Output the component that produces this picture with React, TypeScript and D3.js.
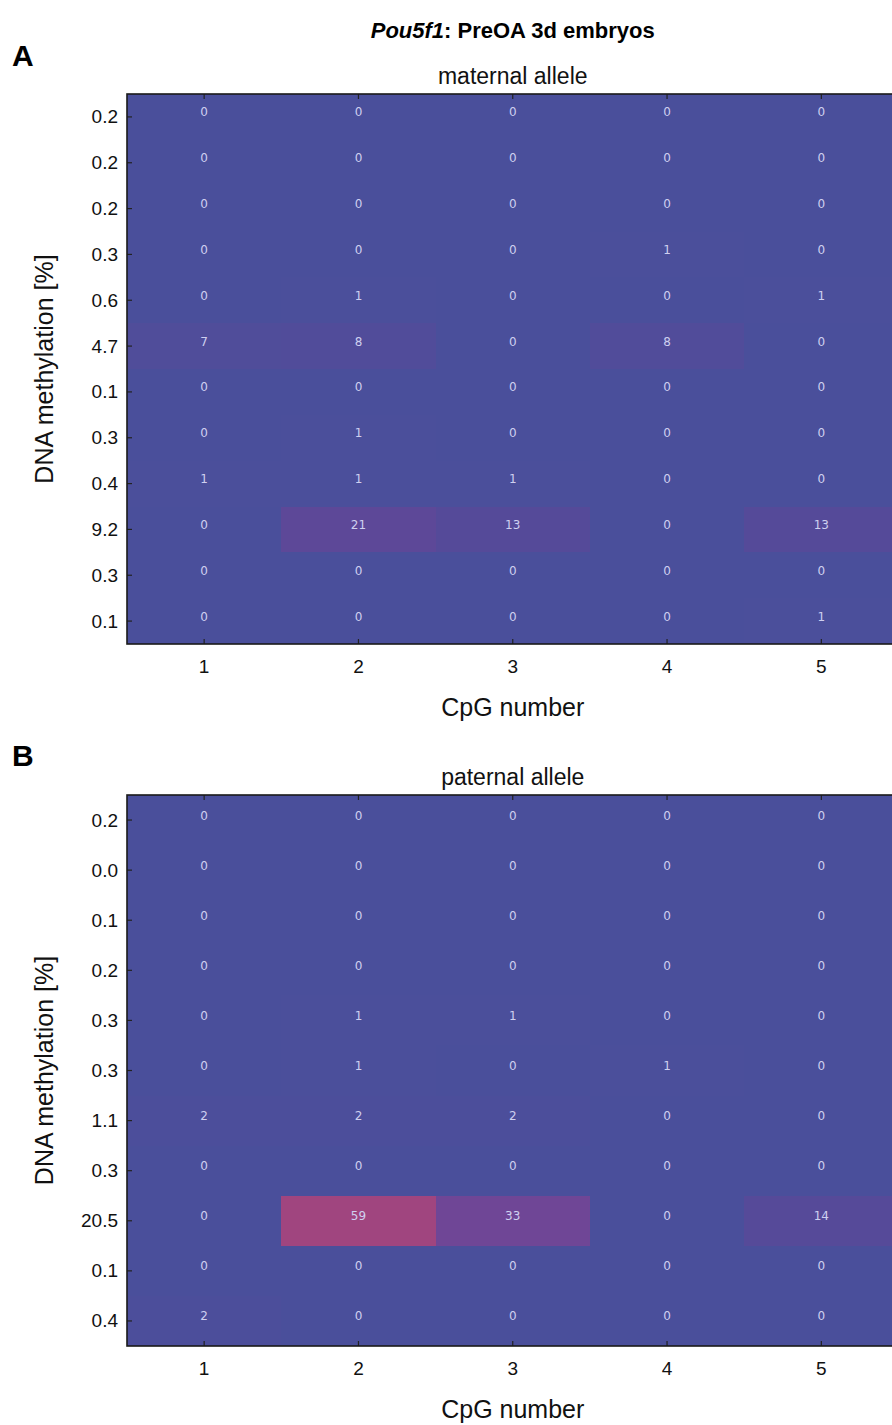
import React from "react";
import * as d3 from "d3";

const cpgs = [1, 2, 3, 4, 5];

const maternalLabels = ["0.2", "0.2", "0.2", "0.3", "0.6", "4.7", "0.1", "0.3", "0.4", "9.2", "0.3", "0.1"];
const maternalValues = [
  [0, 0, 0, 0, 0],
  [0, 0, 0, 0, 0],
  [0, 0, 0, 0, 0],
  [0, 0, 0, 1, 0],
  [0, 1, 0, 0, 1],
  [7, 8, 0, 8, 0],
  [0, 0, 0, 0, 0],
  [0, 1, 0, 0, 0],
  [1, 1, 1, 0, 0],
  [0, 21, 13, 0, 13],
  [0, 0, 0, 0, 0],
  [0, 0, 0, 0, 1],
];

const paternalLabels = ["0.2", "0.0", "0.1", "0.2", "0.3", "0.3", "1.1", "0.3", "20.5", "0.1", "0.4"];
const paternalValues = [
  [0, 0, 0, 0, 0],
  [0, 0, 0, 0, 0],
  [0, 0, 0, 0, 0],
  [0, 0, 0, 0, 0],
  [0, 1, 1, 0, 0],
  [0, 1, 0, 1, 0],
  [2, 2, 2, 0, 0],
  [0, 0, 0, 0, 0],
  [0, 59, 33, 0, 14],
  [0, 0, 0, 0, 0],
  [2, 0, 0, 0, 0],
];

const color = d3
  .scaleLinear<string>()
  .domain([0, 14, 21, 33, 59])
  .range(["#4a4f9b", "#564a99", "#5d4898", "#6f4696", "#a0457f"])
  .interpolate(d3.interpolateRgb);

const SANS = "'Liberation Sans', Arial, Helvetica, sans-serif";
const CELLFONT = "'DejaVu Sans', sans-serif";

type PanelProps = {
  letter: string;
  subtitle: string;
  labels: string[];
  values: number[][];
  top: number;
  bottom: number;
  letterY: number;
  subtitleY: number;
};

const LEFT = 127;
const RIGHT = 898.5;

function Panel({ letter, subtitle, labels, values, top, bottom, letterY, subtitleY }: PanelProps) {
  const x = d3.scaleBand<number>().domain(cpgs).range([LEFT, RIGHT]).padding(0);
  const y = d3
    .scaleBand<number>()
    .domain(labels.map((_, i) => i))
    .range([top, bottom])
    .padding(0);
  const cw = x.bandwidth();
  const rh = y.bandwidth();
  const tick = 5;
  return (
    <g>
      <text x={12} y={letterY} fontFamily={SANS} fontWeight="bold" fontSize={30} fill="#000">
        {letter}
      </text>
      <text x={(LEFT + RIGHT) / 2} y={subtitleY} textAnchor="middle" fontFamily={SANS} fontSize={23} fill="#111">
        {subtitle}
      </text>
      <g shapeRendering="crispEdges">
        {values.map((row, ri) =>
          row.map((v, ci) => (
            <rect
              key={`${ri}-${ci}`}
              x={Math.round(x(cpgs[ci])!)}
              y={Math.round(y(ri)!)}
              width={Math.round(x(cpgs[ci])! + cw) - Math.round(x(cpgs[ci])!)}
              height={Math.round(y(ri)! + rh) - Math.round(y(ri)!)}
              fill={color(v)}
            />
          ))
        )}
      </g>
      {values.map((row, ri) =>
        row.map((v, ci) => (
          <text
            key={`t${ri}-${ci}`}
            x={x(cpgs[ci])! + cw / 2}
            y={y(ri)! + rh / 2 - 4}
            textAnchor="middle"
            dominantBaseline="middle"
            fontFamily={CELLFONT}
            fontSize={12}
            fill="#cfd0f0"
          >
            {v}
          </text>
        ))
      )}
      {labels.map((_, i) => (
        <g key={`yt${i}`}>
          <line x1={LEFT} x2={LEFT + tick} y1={y(i)! + rh / 2} y2={y(i)! + rh / 2} stroke="#222" strokeWidth={1.2} />
          <line x1={RIGHT} x2={RIGHT - tick} y1={y(i)! + rh / 2} y2={y(i)! + rh / 2} stroke="#222" strokeWidth={1.2} />
        </g>
      ))}
      {cpgs.map((c) => (
        <g key={`xt${c}`}>
          <line x1={x(c)! + cw / 2} x2={x(c)! + cw / 2} y1={bottom} y2={bottom - tick} stroke="#222" strokeWidth={1.2} />
          <line x1={x(c)! + cw / 2} x2={x(c)! + cw / 2} y1={top} y2={top + tick} stroke="#222" strokeWidth={1.2} />
        </g>
      ))}
      <rect x={LEFT} y={top} width={RIGHT - LEFT} height={bottom - top} fill="none" stroke="#1a1a1a" strokeWidth={1.6} />
      {labels.map((l, i) => (
        <text
          key={`yl${i}`}
          x={LEFT - 9}
          y={y(i)! + rh / 2}
          textAnchor="end"
          dominantBaseline="central"
          fontFamily={SANS}
          fontSize={19}
          fill="#111"
        >
          {l}
        </text>
      ))}
      {cpgs.map((c) => (
        <text
          key={`xl${c}`}
          x={x(c)! + cw / 2}
          y={bottom + 22}
          textAnchor="middle"
          dominantBaseline="central"
          fontFamily={SANS}
          fontSize={19}
          fill="#111"
        >
          {c}
        </text>
      ))}
      <text
        x={(LEFT + RIGHT) / 2}
        y={bottom + 63}
        textAnchor="middle"
        dominantBaseline="central"
        fontFamily={SANS}
        fontSize={25}
        fill="#111"
      >
        CpG number
      </text>
      <text
        transform={`translate(44,${(top + bottom) / 2}) rotate(-90)`}
        textAnchor="middle"
        dominantBaseline="central"
        fontFamily={SANS}
        fontSize={25}
        fill="#111"
      >
        DNA methylation [%]
      </text>
    </g>
  );
}

export default function App() {
  return (
    <svg
      width={892}
      height={1425}
      viewBox="0 0 892 1425"
      style={{ position: "absolute", left: 0, top: 0, background: "#fff" }}
    >
      <text x={(LEFT + RIGHT) / 2} y={38} textAnchor="middle" fontFamily={SANS} fontWeight="bold" fontSize={22} fill="#000">
        <tspan fontStyle="italic">Pou5f1</tspan>
        <tspan>: PreOA 3d embryos</tspan>
      </text>
      <Panel
        letter="A"
        subtitle="maternal allele"
        labels={maternalLabels}
        values={maternalValues}
        top={94}
        bottom={644}
        letterY={66}
        subtitleY={84}
      />
      <Panel
        letter="B"
        subtitle="paternal allele"
        labels={paternalLabels}
        values={paternalValues}
        top={795}
        bottom={1346}
        letterY={766}
        subtitleY={785}
      />
    </svg>
  );
}
